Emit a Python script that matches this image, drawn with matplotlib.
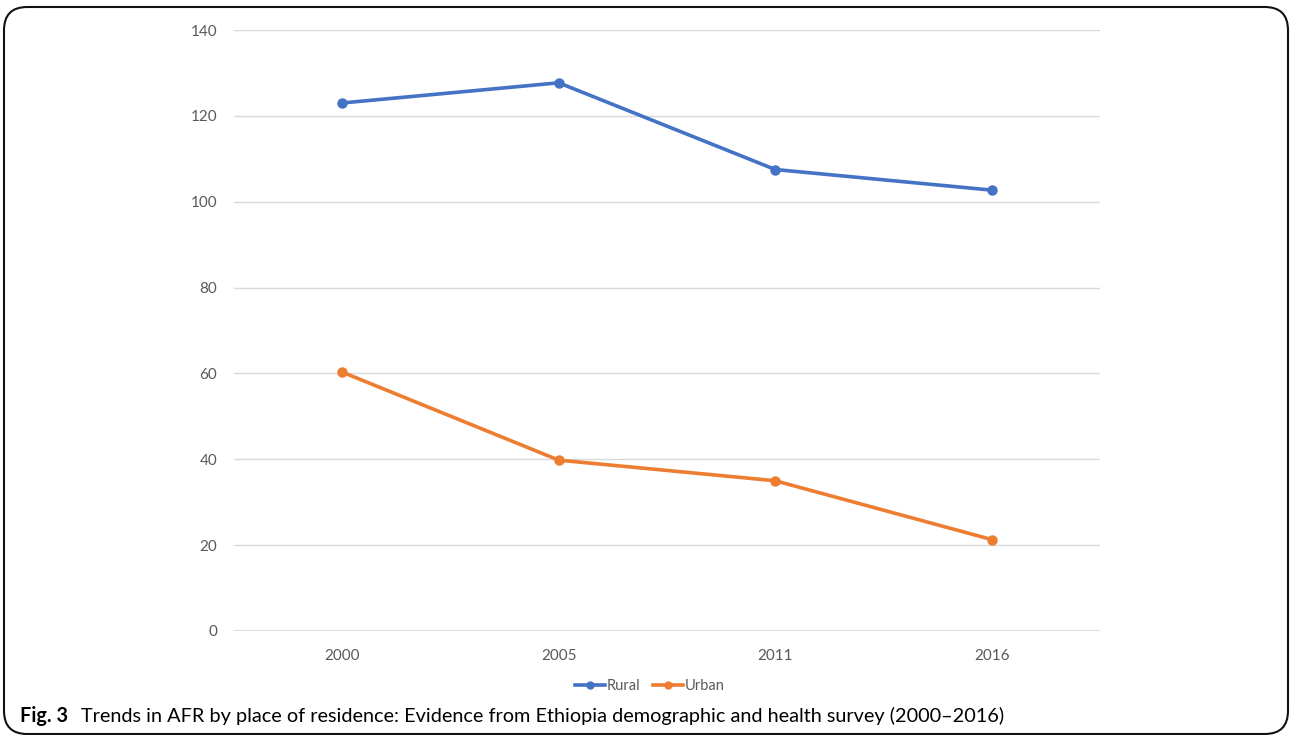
import matplotlib
matplotlib.use("Agg")
import matplotlib.pyplot as plt
from matplotlib.patches import FancyBboxPatch
from matplotlib.lines import Line2D

years = ["2000", "2005", "2011", "2016"]
rural = [123.0, 127.7, 107.5, 102.7]
urban = [60.3, 39.8, 35.0, 21.3]
y_ticks = [0, 20, 40, 60, 80, 100, 120, 140]

BLUE = "#4472C4"
ORANGE = "#ED7D31"
GRID = "#D9D9D9"
TICK = "#595959"

plt.rcParams["font.family"] = ["Lato", "DejaVu Sans"]

W, H = 1290, 735
fig = plt.figure(figsize=(W / 100, H / 100), dpi=100)

# plot area in pixel bounds
left, right, top, bottom = 234, 1100, 30, 631
ax = fig.add_axes([left / W, 1 - bottom / H, (right - left) / W, (bottom - top) / H])

x = [i + 0.5 for i in range(len(years))]
ax.plot(x, rural, color=BLUE, lw=2.6, marker="o", ms=6.5, solid_capstyle="round",
        label="Rural", zorder=3)
ax.plot(x, urban, color=ORANGE, lw=2.6, marker="o", ms=6.5, solid_capstyle="round",
        label="Urban", zorder=3)

ax.set_xlim(0, len(years))
ax.set_ylim(0, 140)
ax.set_yticks(y_ticks)
ax.set_xticks(x)
ax.set_xticklabels(years)
ax.grid(axis="y", color=GRID, lw=1.0)
ax.set_axisbelow(True)
for s in ax.spines.values():
    s.set_visible(False)
ax.axhline(0, color=GRID, lw=1.2, zorder=1)
ax.tick_params(axis="both", length=0, labelsize=11, labelcolor=TICK)
ax.tick_params(axis="y", pad=12)
ax.tick_params(axis="x", pad=13)

# legend below the plot
handles = [Line2D([0], [0], color=BLUE, lw=2.6, marker="o", ms=5),
           Line2D([0], [0], color=ORANGE, lw=2.6, marker="o", ms=5)]
fig.legend(handles, ["Rural", "Urban"], loc="center", bbox_to_anchor=(650 / W, 1 - 686 / H),
           ncol=2, frameon=False, fontsize=10.5, handlelength=2.0, handletextpad=0.15,
           columnspacing=0.9, labelcolor=TICK)

# caption
cap_y = 1 - 716 / H
fig.text(20 / W, cap_y, "Fig. 3", fontsize=14.3, fontweight="bold", va="center", ha="left")
fig.text(81 / W, cap_y,
         "Trends in AFR by place of residence: Evidence from Ethiopia demographic and health survey (2000\u20132016)",
         fontsize=14.3, va="center", ha="left")

# rounded frame around the figure
frame = FancyBboxPatch((4 / W, 1 - 734 / H), (1288 - 4) / W, (734 - 7) / H,
                       boxstyle="round,pad=0,rounding_size=0.018",
                       transform=fig.transFigure, fill=False, ec="#111111", lw=1.5,
                       mutation_aspect=W / H)
fig.patches.append(frame)

fig.savefig("out.png", dpi=100)
